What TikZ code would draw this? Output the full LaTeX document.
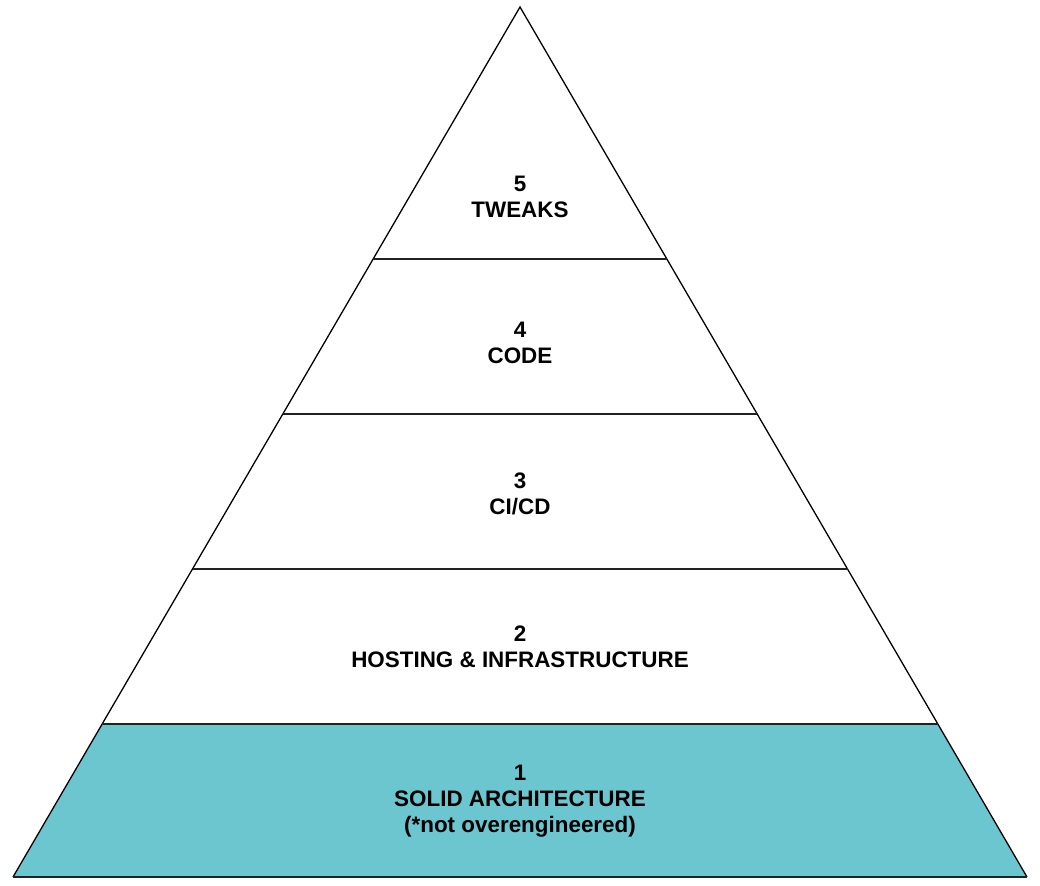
\documentclass[tikz,border=0pt]{standalone}
\usepackage{fontspec}
\setmainfont{Liberation Sans}
\definecolor{tealfill}{HTML}{6CC6D0}
\definecolor{bandline}{HTML}{222222}
\tikzset{
  level/.style={align=center, font=\bfseries\fontsize{22.5}{26}\selectfont, inner sep=0pt},
  sep/.style={line width=2pt, draw=bandline}
}
\begin{document}
\begin{tikzpicture}[x=1bp, y=-1bp]
\useasboundingbox (0,0) rectangle (1040,886);

\coordinate (top) at (520,7);
\coordinate (bl) at (13,877);
\coordinate (br) at (1027,877);

\coordinate (l4) at (373.1,259); \coordinate (r4) at (666.9,259);
\coordinate (l3) at (282.8,414); \coordinate (r3) at (757.2,414);
\coordinate (l2) at (192.5,569); \coordinate (r2) at (847.5,569);
\coordinate (l1) at (102.2,724); \coordinate (r1) at (937.8,724);

% bottom level
\fill[tealfill] (l1) -- (r1) -- (br) -- (bl) -- cycle;

\draw[line width=1.3pt, line join=miter] (bl) -- (top) -- (br);
\draw[line width=2.2pt, draw=bandline] (bl) -- (br);

\draw[sep] (l4) -- (r4);
\draw[sep] (l3) -- (r3);
\draw[sep] (l2) -- (r2);
\draw[sep] (l1) -- (r1);

\node[level] (tweaks) at (520,197) {5\\TWEAKS};
\node[level] (code) at (520,343) {4\\CODE};
\node[level] (cicd) at (520,494) {3\\CI/CD};
\node[level] (hosting) at (520,647) {2\\HOSTING \& INFRASTRUCTURE};
\node[level] (arch) at (520,801) {1\\SOLID ARCHITECTURE\\(*not overengineered)};

\end{tikzpicture}
\end{document}
